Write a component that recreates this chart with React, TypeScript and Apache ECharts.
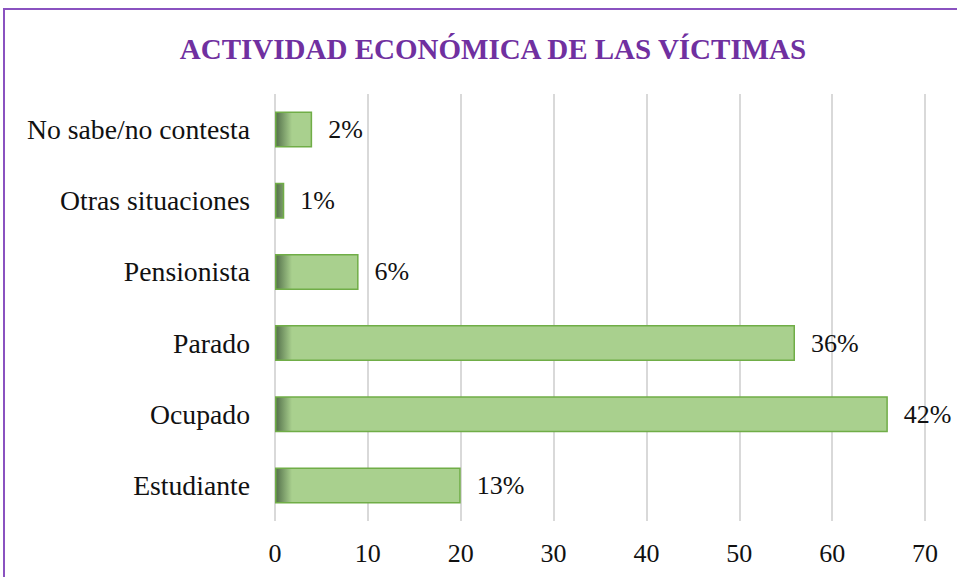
import React, { useEffect, useRef } from "react";
import * as echarts from "echarts";

const categories = ["Estudiante", "Ocupado", "Parado", "Pensionista", "Otras situaciones", "No sabe/no contesta"];
const values = [20, 66, 56, 9, 1, 4];
const percentLabels = ["13%", "42%", "36%", "6%", "1%", "2%"];
const xTicks = [0, 10, 20, 30, 40, 50, 60, 70];

export default function App() {
  const ref = useRef<HTMLDivElement>(null);
  useEffect(() => {
    if (!ref.current) return;
    const chart = echarts.init(ref.current, null, { renderer: "svg" });
    const font = "'Liberation Serif', 'Times New Roman', serif";
    chart.setOption({
      animation: false,
      backgroundColor: "#ffffff",
      title: {
        text: "ACTIVIDAD ECONÓMICA DE LAS VÍCTIMAS",
        left: 488,
        textAlign: "center",
        top: 29,
        textStyle: { fontFamily: font, fontSize: 29, fontWeight: "bold", color: "#7030A0" },
      },
      graphic: [
        {
          type: "rect",
          shape: { x: 4, y: 9, width: 1100, height: 1000 },
          style: { fill: "none", stroke: "#8a52c0", lineWidth: 2 },
          silent: true,
        },
      ],
      grid: { left: 275, right: 32, top: 94, bottom: 56 },
      xAxis: {
        type: "value",
        min: xTicks[0],
        max: xTicks[xTicks.length - 1],
        interval: 10,
        axisLine: { show: false },
        axisTick: { show: false },
        splitLine: { show: true, lineStyle: { color: "#d9d9d9", width: 2 } },
        axisLabel: { fontFamily: font, fontSize: 26, color: "#111", margin: 19 },
      },
      yAxis: {
        type: "category",
        data: categories,
        axisLine: { show: false },
        axisTick: { show: false },
        axisLabel: { fontFamily: font, fontSize: 27.7, color: "#111", margin: 25 },
      },
      series: [
        {
          type: "bar",
          data: values,
          barWidth: 36,
          itemStyle: {
            color: {
              type: "linear",
              global: true,
              x: 275,
              y: 0,
              x2: 292,
              y2: 0,
              colorStops: [
                { offset: 0, color: "#4f6b47" },
                { offset: 1, color: "#a9d08e" },
              ],
            },
            borderColor: "#70ad47",
            borderWidth: 1.5,
          },
          label: {
            show: true,
            position: "right",
            distance: 16,
            fontFamily: font,
            fontSize: 26,
            color: "#111",
            formatter: (p: any) => percentLabels[p.dataIndex],
          },
        },
      ],
    });
    return () => chart.dispose();
  }, []);
  return (
    <div
      ref={ref}
      style={{ position: "fixed", left: 0, top: 0, width: 957, height: 577 }}
    />
  );
}
